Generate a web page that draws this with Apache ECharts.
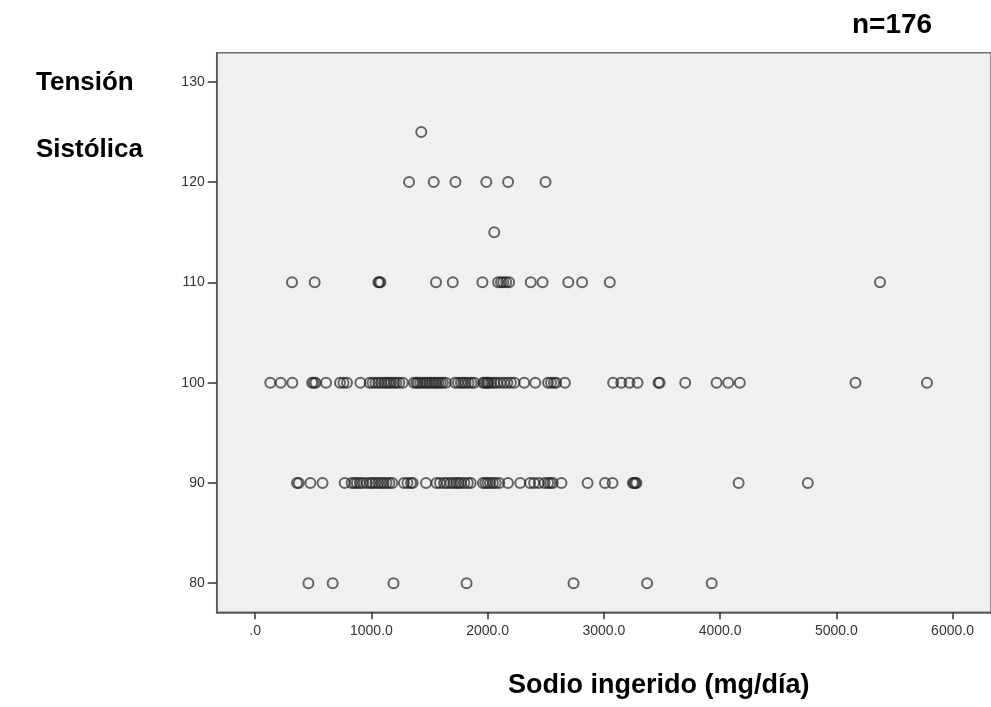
<!DOCTYPE html>
<html>
<head>
<meta charset="utf-8">
<script src="https://cdn.jsdelivr.net/npm/echarts@6/dist/echarts.min.js"></script>
<style>
  html, body { margin: 0; padding: 0; background: #ffffff; }
  #chart { width: 991px; height: 707px; }
</style>
</head>
<body>
<div id="chart"></div>
<script>
// Systolic pressure levels (y) and sodium intake values (x) observed at each level
const tensionLevels = [80, 90, 100, 110, 115, 120, 125];
const sodio80 = [458, 667, 1190, 1819, 2739, 3372, 3928];
const sodio90 = [360, 375, 475, 580,
  770, 830, 855, 875, 900, 925, 960, 990, 1010, 1035, 1060, 1085, 1105, 1130, 1155, 1180,
  1280, 1310, 1340, 1355, 1470,
  1560, 1590, 1625, 1650, 1680, 1705, 1730, 1750, 1770, 1800, 1830, 1855,
  1960, 1980, 2000, 2020, 2045, 2070, 2100, 2175,
  2280, 2365, 2400, 2440, 2490, 2520, 2540, 2560, 2635,
  2860, 3010, 3075, 3250, 3260, 3270, 3280, 4160, 4755];
const sodio100 = [130, 220, 320, 490, 505, 520, 610, 730, 760, 790, 905,
  985, 1010, 1035, 1060, 1085, 1110, 1130, 1150, 1170, 1195, 1215, 1240, 1270,
  1365, 1385, 1400, 1420, 1440, 1460, 1480, 1500, 1520, 1540, 1555, 1575, 1595, 1615, 1640,
  1720, 1745, 1770, 1790, 1810, 1835, 1860, 1885,
  1960, 1975, 1990, 2000, 2010, 2030, 2055, 2080, 2110, 2140, 2170, 2200, 2230,
  2315, 2410,
  2520, 2545, 2570, 2590, 2665,
  3080, 3150, 3220, 3290, 3470, 3480, 3700, 3970, 4070, 4170, 5165, 5780];
const sodio110 = [317, 512, 1060, 1068, 1078, 1556, 1700, 1955, 2090, 2115, 2135, 2160, 2185,
  2371, 2473, 2694, 2813, 3051, 5376];
const sodio115 = [2057];
const sodio120 = [1324, 1536, 1723, 1989, 2176, 2498];
const sodio125 = [1429];

const xTicks = [0, 1000, 2000, 3000, 4000, 5000, 6000];
const yTicks = [80, 90, 100, 110, 120, 130];

const groups = [sodio80, sodio90, sodio100, sodio110, sodio115, sodio120, sodio125];
const points = [];
groups.forEach((arr, i) => arr.forEach(x => points.push([x, tensionLevels[i]])));

const chart = echarts.init(document.getElementById('chart'), null, { renderer: 'canvas' });
const labelFont = { color: '#333333', fontSize: 14, fontFamily: 'Liberation Sans, Arial, sans-serif' };

chart.setOption({
  animation: false,
  backgroundColor: '#ffffff',
  grid: {
    left: 216.7, top: 52.7, width: 784, height: 559.6,
    show: true, backgroundColor: '#F0F0F0',
    borderColor: '#6e6e6e', borderWidth: 1.5
  },
  xAxis: {
    type: 'value', min: -331, max: 6331,
    splitLine: { show: false },
    axisLine: { show: true, onZero: false, lineStyle: { color: '#555555', width: 1.5 } },
    axisTick: { show: true, length: 7, customValues: xTicks, lineStyle: { color: '#333333', width: 1.5 } },
    axisLabel: Object.assign({
      margin: 12, customValues: xTicks,
      formatter: v => (v === 0 ? '.0' : v.toFixed(1))
    }, labelFont)
  },
  yAxis: {
    type: 'value', min: 77.1, max: 132.9,
    splitLine: { show: false },
    axisLine: { show: true, onZero: false, lineStyle: { color: '#555555', width: 1.5 } },
    axisTick: { show: true, length: 9, customValues: yTicks, lineStyle: { color: '#333333', width: 1.5 } },
    axisLabel: Object.assign({ margin: 12, customValues: yTicks }, labelFont)
  },
  series: [{
    type: 'scatter',
    data: points,
    symbol: 'circle',
    symbolSize: 10,
    itemStyle: { color: 'rgba(0,0,0,0)', borderColor: 'rgba(35,35,35,0.85)', borderWidth: 2 },
    emphasis: { disabled: true }
  }],
  graphic: [
    { type: 'text', left: 36, top: 70, style: { text: 'Tensión', font: 'bold 26px Liberation Sans, Arial, sans-serif', fill: '#000' } },
    { type: 'text', left: 36, top: 137, style: { text: 'Sistólica', font: 'bold 26px Liberation Sans, Arial, sans-serif', fill: '#000' } },
    { type: 'text', left: 852, top: 11, style: { text: 'n=176', font: 'bold 28px Liberation Sans, Arial, sans-serif', fill: '#000' } },
    { type: 'text', left: 508, top: 672, style: { text: 'Sodio ingerido (mg/día)', font: 'bold 27px Liberation Sans, Arial, sans-serif', fill: '#000' } }
  ]
});
</script>
</body>
</html>
